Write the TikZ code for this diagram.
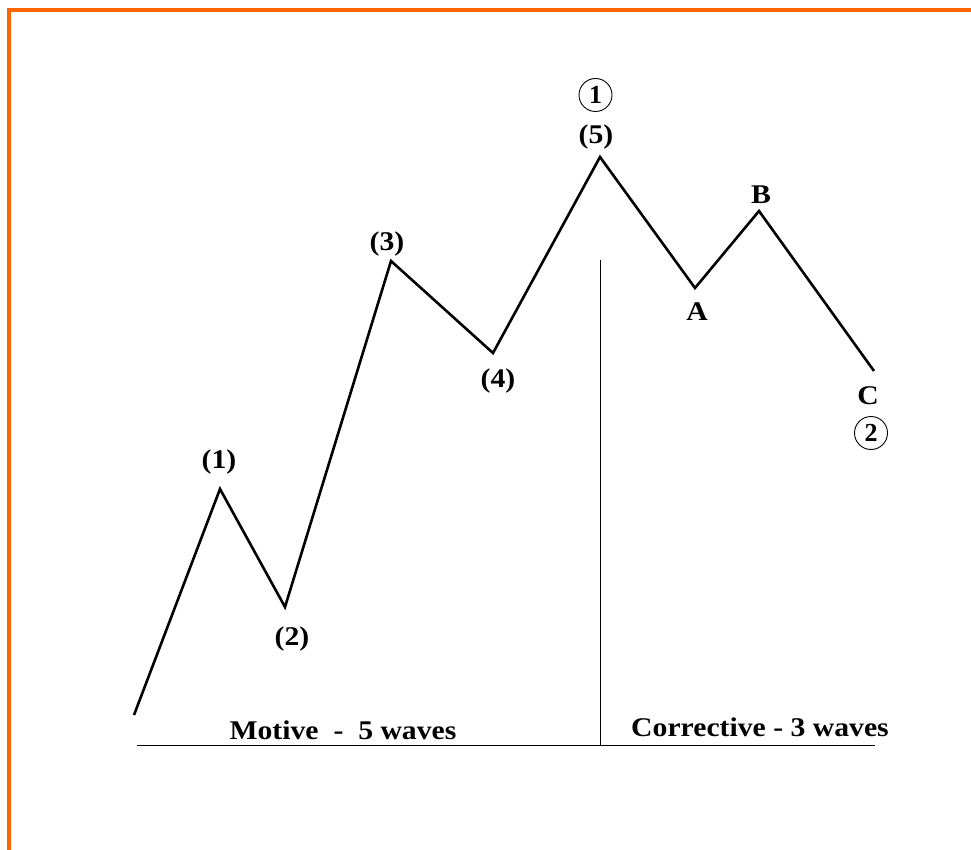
\documentclass[tikz,border=0pt]{standalone}
\usepackage{fontspec}
\setmainfont{Liberation Serif}
\definecolor{borderorange}{HTML}{FF6600}
\newcommand{\wid}[1]{\scalebox{1.1}[1]{#1}}
\begin{document}
\begin{tikzpicture}[x=1pt,y=-1pt,
  lbl/.style={inner sep=0pt,font=\fontsize{27}{30}\selectfont\bfseries},
  circ/.style={circle,draw,line width=0.9pt,inner sep=0pt,minimum size=33pt,font=\fontsize{26}{30}\selectfont\bfseries},
  wave/.style={line width=2.6pt,line join=miter},
  rule/.style={line width=1.6pt}]
\useasboundingbox (0,0) rectangle (971,850);
\fill[white] (0,0) rectangle (971,850);
% border
\draw[borderorange,line width=3.6pt] (8.7,850) -- (8.7,9.8) -- (971,9.8);
% wave points
\coordinate (s) at (134,715);
\coordinate (p1) at (220,489);
\coordinate (p2) at (285,607);
\coordinate (p3) at (391,261);
\coordinate (p4) at (493,353);
\coordinate (p5) at (600,157);
\coordinate (pa) at (695,288);
\coordinate (pb) at (759,211);
\coordinate (pc) at (874,371);
\draw[wave] (s) -- (p1) -- (p2) -- (p3) -- (p4) -- (p5) -- (pa) -- (pb) -- (pc);
% rules
\coordinate (bl) at (137,745.5);
\coordinate (br) at (875,745.5);
\coordinate (vt) at (600.5,260);
\coordinate (vb) at (600.5,745.5);
\draw[rule] (bl) -- (br);
\draw[rule] (vt) -- (vb);
% labels
\node[lbl] (l1) at (219,462) {\wid{(1)}};
\node[lbl] (l2) at (292,639) {\wid{(2)}};
\node[lbl] (l3) at (387,244) {\wid{(3)}};
\node[lbl] (l4) at (498,381) {\wid{(4)}};
\node[lbl] (l5) at (596,137) {\wid{(5)}};
\node[circ] (c1) at (595.5,95) {1};
\node[lbl] (la) at (697,312) {\wid{A}};
\node[lbl] (lb) at (761,195) {\wid{B}};
\node[lbl] (lc) at (868,396) {\wid{C}};
\node[circ] (c2) at (871,433) {2};
\node[lbl] (mot) at (343,730) {\wid{Motive\ \ -\ \ 5 waves}};
\node[lbl] (cor) at (760,727) {\wid{Corrective - 3 waves}};
\end{tikzpicture}
\end{document}
